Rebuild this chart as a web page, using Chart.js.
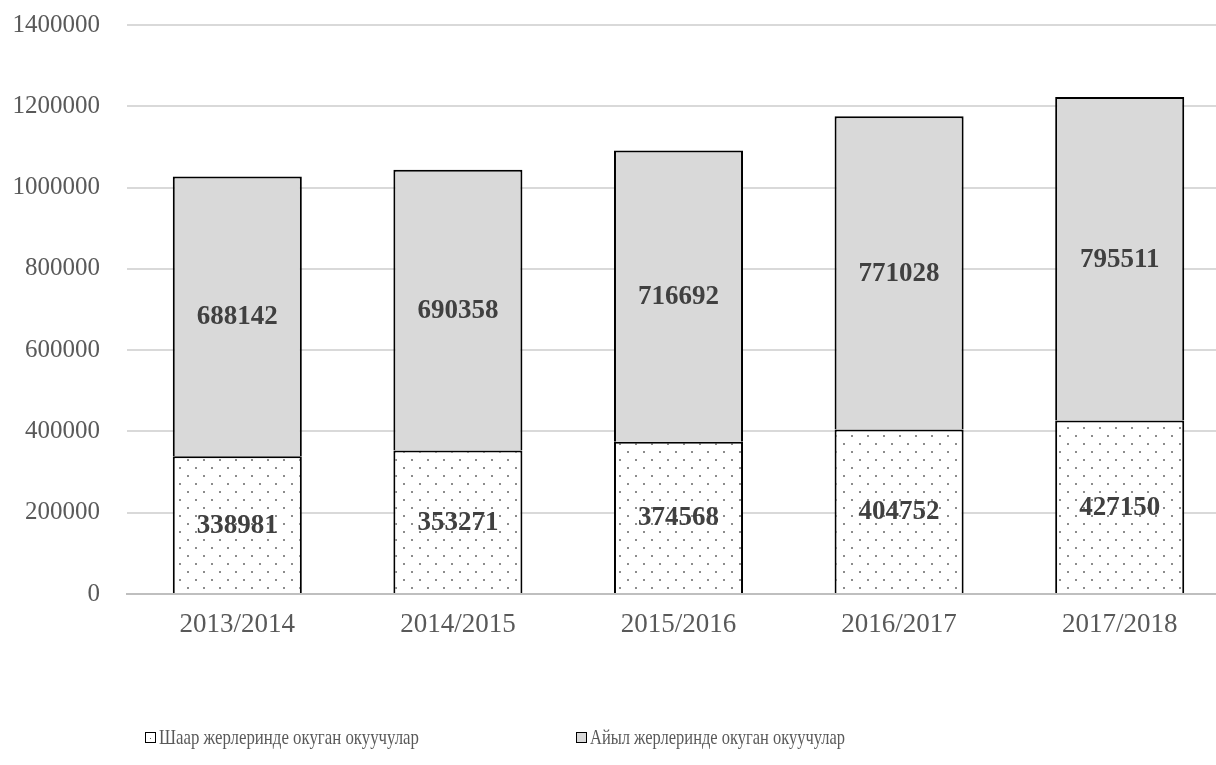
<!DOCTYPE html>
<html>
<head>
<meta charset="utf-8">
<script src="https://cdn.jsdelivr.net/npm/chart.js@4.4.1/dist/chart.umd.min.js"></script>
<style>
  html, body { margin: 0; padding: 0; background: #fff; overflow: hidden; }
  #wrap { position: relative; width: 1232px; height: 765px; }
  .leg { position: absolute; top: 724px; font-family: 'Liberation Serif', 'Times New Roman', serif; font-size: 22px; color: #595959; white-space: nowrap; display: flex; align-items: center; }
  .sw { width: 9px; height: 9px; border: 1px solid #000; margin-right: 3px; box-sizing: content-box; position: relative; flex: none; }
  .lt { display: inline-block; transform-origin: 0 50%; }
</style>
</head>
<body>
<div id="wrap">
  <canvas id="c" width="1232" height="765"></canvas>
  <div class="leg" id="leg1" style="left:145px;"><span class="sw" style="background:#fff;"><span style="position:absolute;left:4px;top:5px;width:1px;height:1px;background:#666;"></span></span><span class="lt" id="lt1"></span></div>
  <div class="leg" id="leg2" style="left:576px;"><span class="sw" style="background:#d9d9d9;"></span><span class="lt" id="lt2"></span></div>
</div>
<script>
const categories = ['2013/2014', '2014/2015', '2015/2016', '2016/2017', '2017/2018'];
const seriesNames = ['Шаар жерлеринде окуган окуучулар', 'Айыл жерлеринде окуган окуучулар'];
const urban = [338981, 353271, 374568, 404752, 427150];
const rural = [688142, 690358, 716692, 771028, 795511];
const yTicks = [0, 200000, 400000, 600000, 800000, 1000000, 1200000, 1400000];

const FONT = "'Liberation Serif', 'Times New Roman', serif";

// legend text, squeezed to the reference widths
[['lt1', 0, 260], ['lt2', 1, 255]].forEach(([id, i, w]) => {
  const el = document.getElementById(id);
  el.textContent = seriesNames[i];
  const natural = el.getBoundingClientRect().width;
  if (natural > 0) el.style.transform = 'scaleX(' + (w / natural) + ')';
});

function makePattern() {
  const p = document.createElement('canvas');
  p.width = 16; p.height = 16;
  const g = p.getContext('2d');
  g.fillStyle = '#ffffff';
  g.fillRect(0, 0, 16, 16);
  g.fillStyle = '#8c8c8c';
  g.fillRect(3, 3, 2, 2);
  g.fillRect(11, 11, 2, 2);
  return document.getElementById('c').getContext('2d').createPattern(p, 'repeat');
}

const labelPlugin = {
  id: 'centerLabels',
  afterDatasetsDraw(chart) {
    const ctx = chart.ctx;
    ctx.save();
    ctx.font = 'bold 27px ' + FONT;
    ctx.fillStyle = '#404040';
    ctx.textAlign = 'center';
    ctx.textBaseline = 'middle';
    chart.data.datasets.forEach((ds, di) => {
      const meta = chart.getDatasetMeta(di);
      meta.data.forEach((el, i) => {
        ctx.fillText(String(ds.data[i]), el.x, (el.y + el.base) / 2 + 1);
      });
    });
    ctx.restore();
  }
};

Chart.defaults.font.family = FONT;
Chart.defaults.color = '#595959';

new Chart(document.getElementById('c'), {
  type: 'bar',
  data: {
    labels: categories,
    datasets: [
      { label: seriesNames[0], data: urban, backgroundColor: makePattern(), borderColor: '#000', borderWidth: 2,
        categoryPercentage: 1, barPercentage: 0.585 },
      { label: seriesNames[1], data: rural, backgroundColor: '#d9d9d9', borderColor: '#000', borderWidth: 2,
        categoryPercentage: 1, barPercentage: 0.585 }
    ]
  },
  options: {
    responsive: false,
    devicePixelRatio: 1,
    animation: false,
    layout: { padding: { top: 25, right: 2, left: 0, bottom: 0 } },
    plugins: { legend: { display: false }, tooltip: { enabled: false } },
    scales: {
      x: {
        stacked: true,
        grid: { display: false },
        border: { display: true, color: '#bfbfbf', width: 2 },
        ticks: { font: { size: 27 }, color: '#595959', padding: 7 },
        afterFit(s) { s.height = 171; }
      },
      y: {
        stacked: true,
        min: 0, max: 1400000,
        afterBuildTicks(s) { s.ticks = yTicks.map(v => ({ value: v })); },
        grid: { color: '#d9d9d9', lineWidth: 2, drawTicks: false },
        border: { display: false },
        ticks: { font: { size: 25 }, color: '#595959', padding: 27, callback: v => String(v) },
        afterFit(s) { s.width = 127; s.paddingTop = 0; s.paddingBottom = 0; }
      }
    }
  },
  plugins: [labelPlugin]
});
</script>
</body>
</html>
